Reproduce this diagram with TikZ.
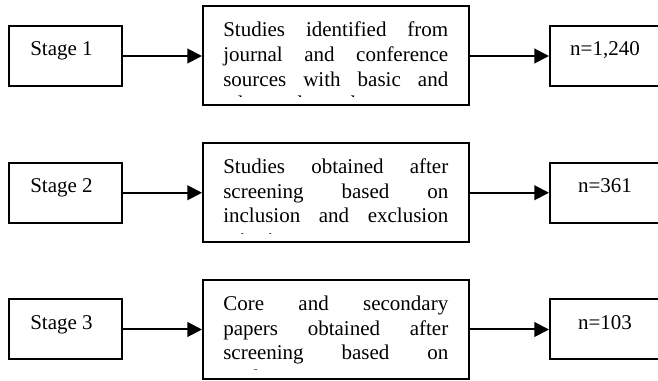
\documentclass[tikz,border=0pt]{standalone}
\usepackage{fontspec}
\setmainfont{Liberation Serif}
\usetikzlibrary{arrows.meta}
\newcommand{\fullline}[1]{\hbox to 168.75pt{#1}}

\begin{document}
\begin{tikzpicture}[x=0.75pt,y=0.75pt,yscale=-1,xscale=1,
	stagebox/.style={draw,line width=1.5pt,minimum width=84.75pt,minimum height=45pt,inner sep=0pt},
	studybox/.style={draw,line width=1.5pt,minimum width=199.5pt,minimum height=74.25pt,inner sep=0pt},
	txt/.style={inner sep=0pt,font=\fontsize{15.75pt}{18.4pt}\selectfont},
	arr/.style={line width=1.5pt,-{Triangle[length=11pt,width=11pt]}}]
	%set diagram to the page, count boxes run past the right edge
	\clip (0,0) rectangle (658,381);
	
	%Stage boxes
	\node (s1) [stagebox] at (65.5,56) {};
	\node (s2) [stagebox] at (65.5,192.75) {};
	\node (s3) [stagebox] at (65.5,329.5) {};
	%Study boxes
	\node (m1) [studybox] at (336,56) {};
	\node (m2) [studybox] at (336,192.75) {};
	\node (m3) [studybox] at (336,329.5) {};
	%Count boxes
	\node (n1) [stagebox] at (606.5,56) {};
	\node (n2) [stagebox] at (606.5,192.75) {};
	\node (n3) [stagebox] at (606.5,329.5) {};
	
	%Arrows
	\draw [arr] (s1) -- (m1);
	\draw [arr] (m1) -- (n1);
	\draw [arr] (s2) -- (m2);
	\draw [arr] (m2) -- (n2);
	\draw [arr] (s3) -- (m3);
	\draw [arr] (m3) -- (n3);
	
	\node (ts1) [txt,anchor=base west] at (30,56) {Stage 1};
	\node (ts2) [txt,anchor=base west] at (30,192.75) {Stage 2};
	\node (ts3) [txt,anchor=base west] at (30,329.5) {Stage 3};
	
	\node (tn1) [txt,anchor=base] at (605,56) {n=1,240};
	\node (tn2) [txt,anchor=base] at (605,192.75) {n=361};
	\node (tn3) [txt,anchor=base] at (605,329.5) {n=103};
	
	%text of the study boxes, cut at the bottom as in the text box
	\begin{scope}
		\clip (m1.north west) rectangle ([yshift=-7.5pt]m1.south east);
		\node (tm1) [txt,anchor=base west] at (223,37) {\vtop{%
				\fullline{Studies identified from}
				\fullline{journal and conference}
				\fullline{sources with basic and}
				\hbox{advanced search}}};
	\end{scope}
	\begin{scope}
		\clip (m2.north west) rectangle ([yshift=-7.5pt]m2.south east);
		\node (tm2) [txt,anchor=base west] at (223,173.75) {\vtop{%
				\fullline{Studies obtained after}
				\fullline{screening based on}
				\fullline{inclusion and exclusion}
				\hbox{criteria}}};
	\end{scope}
	\begin{scope}
		\clip (m3.north west) rectangle ([yshift=-7.5pt]m3.south east);
		\node (tm3) [txt,anchor=base west] at (223,310.5) {\vtop{%
				\fullline{Core and secondary}
				\fullline{papers obtained after}
				\fullline{screening based on}
				\hbox{quality criteria}}};
	\end{scope}
	
\end{tikzpicture}
\end{document}
